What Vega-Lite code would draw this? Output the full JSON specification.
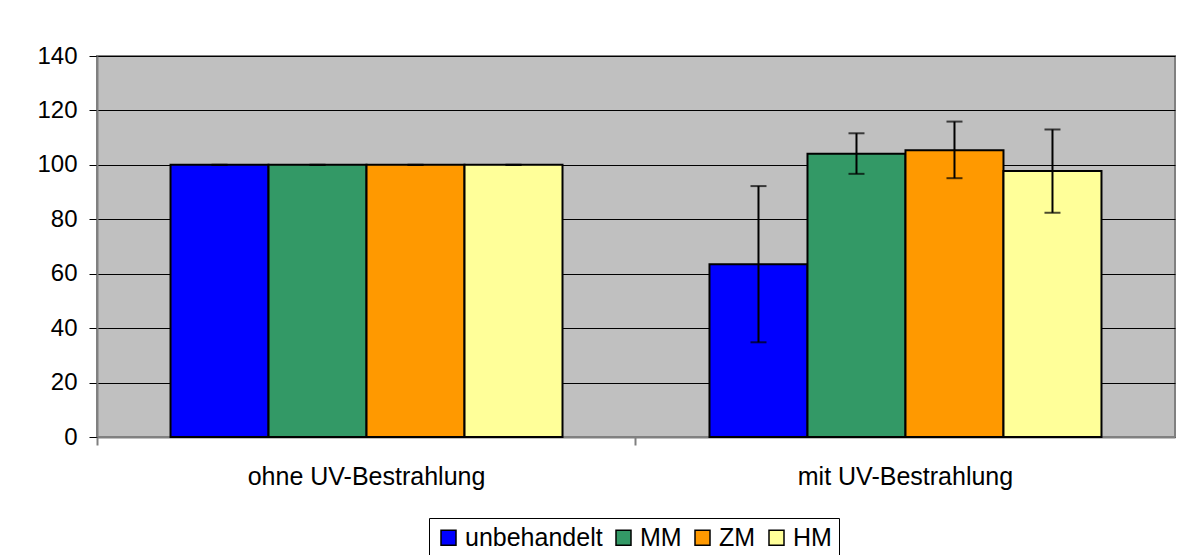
{
  "$schema": "https://vega.github.io/schema/vega-lite/v6.json",
  "width": 1078,
  "height": 381,
  "autosize": {"type": "none"},
  "padding": {"left": 97, "top": 56, "right": 9, "bottom": 118},
  "background": "white",
  "config": {
    "font": "Liberation Sans",
    "view": {"fill": "#C0C0C0", "stroke": "#808080", "strokeWidth": 2}
  },
  "data": {
    "values": [
      {"gruppe": "ohne UV-Bestrahlung", "serie": "unbehandelt", "wert": 100, "lo": 100, "hi": 100},
      {"gruppe": "ohne UV-Bestrahlung", "serie": "MM", "wert": 100, "lo": 100, "hi": 100},
      {"gruppe": "ohne UV-Bestrahlung", "serie": "ZM", "wert": 100, "lo": 100, "hi": 100},
      {"gruppe": "ohne UV-Bestrahlung", "serie": "HM", "wert": 100, "lo": 100, "hi": 100},
      {"gruppe": "mit UV-Bestrahlung", "serie": "unbehandelt", "wert": 63.5, "lo": 34.8, "hi": 92.2},
      {"gruppe": "mit UV-Bestrahlung", "serie": "MM", "wert": 104.1, "lo": 96.7, "hi": 111.6},
      {"gruppe": "mit UV-Bestrahlung", "serie": "ZM", "wert": 105.4, "lo": 95.1, "hi": 115.9},
      {"gruppe": "mit UV-Bestrahlung", "serie": "HM", "wert": 97.7, "lo": 82.4, "hi": 113.0}
    ]
  },
  "encoding": {
    "x": {
      "field": "gruppe",
      "type": "nominal",
      "sort": ["ohne UV-Bestrahlung", "mit UV-Bestrahlung"],
      "scale": {"paddingInner": 0.2727, "paddingOuter": 0.1364},
      "axis": {
        "title": null,
        "labelAngle": 0,
        "labelFontSize": 25,
        "labelColor": "black",
        "labelPadding": 19,
        "labelLimit": 0,
        "bandPosition": -0.1875,
        "tickSize": 8,
        "tickColor": "#808080",
        "tickWidth": 2,
        "domainColor": "#808080",
        "domainWidth": 2
      }
    },
    "xOffset": {
      "field": "serie",
      "type": "nominal",
      "sort": ["unbehandelt", "MM", "ZM", "HM"],
      "scale": {"paddingInner": 0, "paddingOuter": 0}
    }
  },
  "layer": [
    {
      "mark": {"type": "bar", "stroke": "black", "strokeWidth": 2, "opacity": 1},
      "encoding": {
        "y": {
          "field": "wert",
          "type": "quantitative",
          "scale": {"domain": [0, 140], "nice": false},
          "axis": {
            "title": null,
            "values": [0, 20, 40, 60, 80, 100, 120, 140],
            "labelFontSize": 24,
            "labelColor": "black",
            "labelPadding": 12,
            "tickSize": 8,
            "tickColor": "black",
            "domainColor": "#808080",
            "domainWidth": 2,
            "grid": true,
            "gridColor": "black",
            "gridWidth": 1,
            "gridOpacity": 1
          }
        },
        "color": {
          "field": "serie",
          "type": "nominal",
          "sort": ["unbehandelt", "MM", "ZM", "HM"],
          "scale": {
            "domain": ["unbehandelt", "MM", "ZM", "HM"],
            "range": ["#0000FF", "#339966", "#FF9900", "#FFFF99"]
          },
          "legend": {
            "title": null,
            "orient": "none",
            "legendX": 332,
            "legendY": 462,
            "direction": "horizontal",
            "strokeColor": "black",
            "fillColor": "white",
            "padding": 7,
            "symbolType": "square",
            "symbolSize": 225,
            "symbolStrokeColor": "black",
            "symbolStrokeWidth": 1.5,
            "symbolOpacity": 1,
            "labelFontSize": 25,
            "labelColor": "black",
            "labelOffset": 4,
            "columnPadding": 8
          }
        }
      }
    },
    {
      "mark": {"type": "rule", "strokeWidth": 2, "color": "black"},
      "encoding": {
        "y": {"field": "lo", "type": "quantitative"},
        "y2": {"field": "hi"}
      }
    },
    {
      "mark": {"type": "tick", "thickness": 2, "size": 16, "color": "black", "orient": "horizontal"},
      "encoding": {"y": {"field": "lo", "type": "quantitative"}}
    },
    {
      "mark": {"type": "tick", "thickness": 2, "size": 16, "color": "black", "orient": "horizontal"},
      "encoding": {"y": {"field": "hi", "type": "quantitative"}}
    }
  ]
}
